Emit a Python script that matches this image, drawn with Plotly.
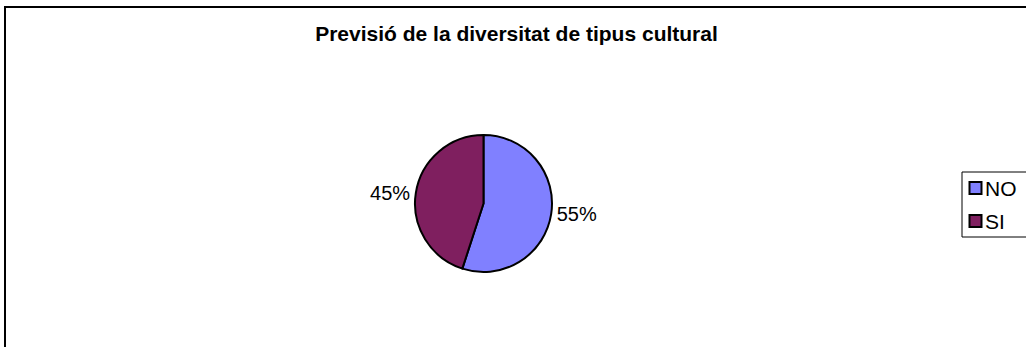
import plotly.graph_objects as go

labels = ["NO", "SI"]
values = [55, 45]
colors = ["#8080FF", "#7F1F5F"]

W, H = 1026, 347
FONT = "Liberation Sans, Arial"

fig = go.Figure(go.Pie(
    labels=labels, values=values, sort=False,
    direction="clockwise", rotation=0,
    marker=dict(colors=colors, line=dict(color="black", width=2)),
    textinfo="percent", textposition="outside",
    texttemplate="%{percent:.0%}",
    textfont=dict(family=FONT, size=20, color="black"),
    domain=dict(x=[414 / W, 553 / W], y=[1 - 272 / H, 1 - 135 / H]),
    showlegend=False,
))

# outer chart frame (right and bottom edges fall outside the picture)
fig.add_shape(type="rect", xref="paper", yref="paper",
              x0=5 / W, x1=1.05, y0=-0.05, y1=1 - 7 / H,
              line=dict(color="black", width=2))

# legend box, right side cut off like the original
fig.add_shape(type="rect", xref="paper", yref="paper",
              x0=962 / W, x1=1.05, y0=1 - 237 / H, y1=1 - 172 / H,
              line=dict(color="black", width=1), fillcolor="white", layer="below")
for i, (lab, col) in enumerate(zip(labels, colors)):
    top = 182 + i * 33
    fig.add_shape(type="rect", xref="paper", yref="paper",
                  x0=969.5 / W, x1=981.5 / W,
                  y0=1 - (top + 12) / H, y1=1 - top / H,
                  line=dict(color="black", width=2), fillcolor=col)
    fig.add_annotation(text=lab, xref="paper", yref="paper",
                       x=983 / W, xanchor="left", y=1 - (top + 6.5) / H, yanchor="middle",
                       showarrow=False, font=dict(family=FONT, size=21, color="black"))

fig.update_layout(
    width=W, height=H,
    margin=dict(l=0, r=0, t=0, b=0),
    paper_bgcolor="white", plot_bgcolor="white",
    title=dict(text="<b>Previsió de la diversitat de tipus cultural</b>",
               x=516.5 / W, xanchor="center", y=1 - 33.5 / H, yanchor="middle",
               font=dict(family=FONT, size=21, color="black")),
)

fig.write_html("out.html", config={"displayModeBar": False},
               post_script="document.body.style.margin='0';")
